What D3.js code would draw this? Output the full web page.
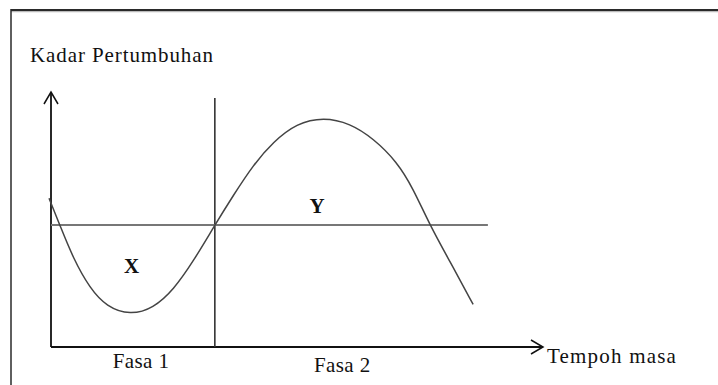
<!DOCTYPE html>
<html>
<head>
<meta charset="utf-8">
<script src="https://cdn.jsdelivr.net/npm/d3@7"></script>
<style>
  html, body { margin: 0; padding: 0; background: #fff; }
  svg { display: block; }
  text { font-family: "Liberation Serif", "DejaVu Serif", serif; fill: #111; }
</style>
</head>
<body>
<div id="chart"></div>
<script>
// data (time 0..100, growth rate 0..100)
const growthTime = [-0.4, 1.8, 4.5, 7.9, 11.3, 16.1, 20.8, 24.9, 28.9, 33.3, 37.1, 41.1,
  45.2, 49.9, 55.4, 60.8, 65.5, 70.3, 73.6, 77.0, 81.1, 85.8];
const growthRate = [58.3, 47.8, 34.8, 23.0, 15.8, 12.5, 15.2, 22.4, 33.5, 47.8, 59.6, 71.4,
  80.5, 87.7, 90.1, 87.7, 81.8, 72.7, 62.2, 47.8, 33.5, 16.7];
const thresholdRate = 47.8;
const thresholdEnd = 88.8;
const phaseBoundary = 33.3;
const phaseLabels = ["Fasa 1", "Fasa 2"];
const regionLabels = ["X", "Y"];
const yTitle = "Kadar Pertumbuhan";
const xTitle = "Tempoh masa";

// general dimensions
const width = 718, height = 385;
const axisLeft = 51, axisRight = 543, axisBottom = 347, axisTop = 92;

const x = d3.scaleLinear().domain([0, 100]).range([axisLeft, axisRight]);
const y = d3.scaleLinear().domain([0, 100]).range([axisBottom, axisTop]);

const svg = d3.select("#chart").append("svg")
  .attr("width", width)
  .attr("height", height);

// frame (top + left edge only)
svg.append("line").attr("x1", 11).attr("x2", width).attr("y1", 11.5).attr("y2", 11.5)
  .attr("stroke", "#bbb").attr("stroke-width", 1.5);
svg.append("line").attr("x1", 11).attr("x2", width).attr("y1", 10).attr("y2", 10)
  .attr("stroke", "#2a2a2a").attr("stroke-width", 2);
svg.append("line").attr("x1", 11).attr("x2", 11).attr("y1", 9).attr("y2", height)
  .attr("stroke", "#2a2a2a").attr("stroke-width", 1.5);

// axes with open arrow heads
const axisG = svg.append("g").attr("stroke", "#111").attr("fill", "none").attr("stroke-width", 1.8);
axisG.append("path")
  .attr("d", `M${x(0)},${y(0)}V${y(100)}`);
axisG.append("path")
  .attr("d", `M${x(0) - 7},${y(100) + 12}L${x(0)},${y(100)}L${x(0) + 7},${y(100) + 12}`)
  .attr("stroke-width", 1.5);
axisG.append("path")
  .attr("d", `M${x(0)},${y(0)}H${x(100)}`);
axisG.append("path")
  .attr("d", `M${x(100) - 12},${y(0) - 7}L${x(100)},${y(0)}L${x(100) - 12},${y(0) + 7}`)
  .attr("stroke-width", 1.5);

// phase divider
svg.append("line")
  .attr("x1", x(phaseBoundary)).attr("x2", x(phaseBoundary))
  .attr("y1", y(0)).attr("y2", y(97.6))
  .attr("stroke", "#333").attr("stroke-width", 1.6);

// threshold line
svg.append("line")
  .attr("x1", x(0)).attr("x2", x(thresholdEnd))
  .attr("y1", y(thresholdRate)).attr("y2", y(thresholdRate))
  .attr("stroke", "#777").attr("stroke-width", 2);

// growth curve
const pts = growthTime.map((t, i) => [t, growthRate[i]]);
const line = d3.line()
  .x(d => x(d[0]))
  .y(d => y(d[1]))
  .curve(d3.curveBasis);
svg.append("path")
  .datum(pts)
  .attr("d", line)
  .attr("fill", "none")
  .attr("stroke", "#444")
  .attr("stroke-width", 1.5);

// region labels
const regionPos = [[16.4, 29.0], [54.1, 52.5]];
svg.selectAll(".region").data(regionLabels).join("text")
  .attr("class", "region")
  .attr("x", (d, i) => x(regionPos[i][0]))
  .attr("y", (d, i) => y(regionPos[i][1]))
  .attr("text-anchor", "middle")
  .style("font-size", "21px")
  .style("font-weight", "bold")
  .text(d => d);

// phase labels under the axis
const phasePos = [[18.3, 368], [59.2, 372]];
svg.selectAll(".phase").data(phaseLabels).join("text")
  .attr("class", "phase")
  .attr("x", (d, i) => x(phasePos[i][0]))
  .attr("y", (d, i) => phasePos[i][1])
  .attr("text-anchor", "middle")
  .style("font-size", "21px")
  .style("letter-spacing", "0.4px")
  .text(d => d);

// axis titles
svg.append("text")
  .attr("x", 30).attr("y", 62)
  .style("font-size", "21px")
  .style("letter-spacing", "0.9px")
  .text(yTitle);
svg.append("text")
  .attr("x", x(100) + 4).attr("y", 363)
  .style("font-size", "21px")
  .style("letter-spacing", "1.2px")
  .text(xTitle);
</script>
</body>
</html>
